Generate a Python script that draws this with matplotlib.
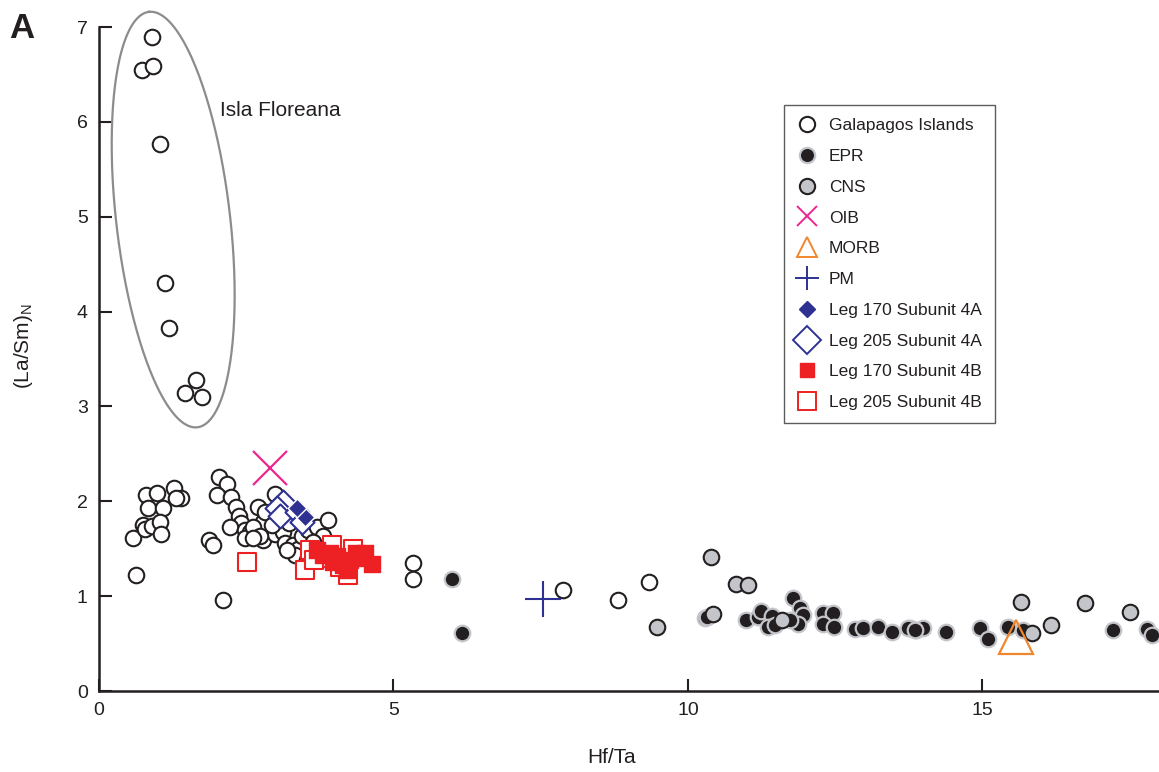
import numpy as np
import matplotlib
matplotlib.use('Agg')
import matplotlib.pyplot as plt
from matplotlib.lines import Line2D

plt.rcParams['font.family'] = ['Liberation Sans', 'DejaVu Sans']
plt.rcParams['mathtext.fontset'] = 'custom'
plt.rcParams['mathtext.rm'] = 'Liberation Sans'

# Galapagos Islands (open circles)
gal_x = [0.90, 0.73, 0.92, 1.04, 1.12, 1.19, 1.46, 1.65, 1.75,
         0.58, 0.63, 0.80, 0.98, 1.27, 1.39, 1.31, 0.83, 1.09, 0.75, 0.78,
         0.90, 1.04, 1.06,
         2.03, 2.17, 2.00, 2.24, 2.32, 2.37, 2.42, 2.22, 2.48, 2.56, 2.48,
         2.70, 2.99, 2.79, 2.70, 2.79, 2.99, 3.13, 3.16, 3.30, 3.38, 3.44,
         3.55, 3.70, 3.89, 3.81, 3.64, 1.86, 1.94, 2.82, 2.62, 2.93, 3.33,
         3.19, 2.11, 3.53, 3.47, 3.23, 2.73, 2.62,
         5.34, 5.34, 7.88, 8.82, 9.34]
gal_y = [6.90, 6.55, 6.59, 5.77, 4.30, 3.83, 3.14, 3.28, 3.10,
         1.61, 1.22, 2.07, 2.09, 2.14, 2.04, 2.04, 1.93, 1.93, 1.75, 1.71,
         1.74, 1.78, 1.66,
         2.26, 2.18, 2.07, 2.05, 1.94, 1.84, 1.77, 1.73, 1.70, 1.68, 1.61,
         1.94, 2.08, 1.78, 1.63, 1.59, 1.66, 1.68, 1.56, 1.54, 1.50, 1.63,
         1.70, 1.73, 1.80, 1.63, 1.57, 1.59, 1.54, 1.89, 1.73, 1.75, 1.43,
         1.49, 0.96, 1.38, 1.80, 1.77, 1.63, 1.61,
         1.35, 1.18, 1.06, 0.96, 1.15]

# EPR (black)
epr_x = [6.00, 6.16, 10.29, 10.32, 10.99, 11.19, 11.25, 11.42, 11.36, 11.48,
         11.79, 11.90, 11.96, 11.87, 11.73, 12.30, 12.47, 12.29, 12.48, 12.84,
         12.98, 13.23, 13.46, 13.77, 13.88, 13.99, 13.74, 13.85, 14.39, 14.96,
         15.10, 15.44, 15.69, 17.22, 17.79, 17.88]
epr_y = [1.18, 0.61, 0.77, 0.78, 0.75, 0.78, 0.84, 0.79, 0.68, 0.70,
         0.98, 0.87, 0.80, 0.71, 0.75, 0.82, 0.82, 0.71, 0.67, 0.65,
         0.66, 0.68, 0.62, 0.66, 0.64, 0.66, 0.66, 0.64, 0.62, 0.66,
         0.55, 0.68, 0.64, 0.64, 0.65, 0.59]

# CNS (grey)
cns_x = [9.47, 10.40, 10.81, 11.02, 10.43, 11.59, 15.66, 15.85, 16.17, 16.74, 17.50]
cns_y = [0.68, 1.41, 1.13, 1.12, 0.81, 0.75, 0.94, 0.61, 0.70, 0.93, 0.83]

# reference compositions
oib = (2.90, 2.35)
morb = (15.57, 0.57)
pm = (7.54, 0.97)

# Leg 170 / 205 Subunit 4A
l170a_x = [3.50, 3.36]
l170a_y = [1.83, 1.93]
l205a_x = [3.13, 3.02, 3.07, 3.36, 3.44]
l205a_y = [1.99, 1.93, 1.85, 1.89, 1.78]

# Leg 170 / 205 Subunit 4B
l170b_x = [4.63, 4.52, 4.37, 4.26, 4.15, 4.04, 3.92, 3.81, 3.70, 4.21, 4.45, 3.98]
l170b_y = [1.34, 1.45, 1.45, 1.38, 1.33, 1.42, 1.45, 1.43, 1.49, 1.28, 1.40, 1.36]
l205b_x = [2.51, 3.50, 3.95, 3.58, 4.23, 3.75, 4.09, 4.32, 3.65]
l205b_y = [1.36, 1.28, 1.54, 1.49, 1.22, 1.40, 1.31, 1.50, 1.38]

BLACK = '#231f20'
GREY = '#c3c5ca'
RED = '#ed2124'
BLUE = '#2e3192'
PINK = '#ec268f'
ORANGE = '#f0872e'

fig = plt.figure(figsize=(11.59, 7.72), dpi=100)
ax = fig.add_axes([0.0854, 0.1049, 0.9146, 0.8601])

ax.scatter(gal_x, gal_y, s=125, facecolors='white', edgecolors=BLACK, linewidths=1.5, zorder=3)
ax.scatter(epr_x, epr_y, s=125, facecolors=BLACK, edgecolors=GREY, linewidths=1.6, zorder=3)
ax.scatter(cns_x, cns_y, s=125, facecolors=GREY, edgecolors=BLACK, linewidths=1.5, zorder=4)
ax.scatter(l205b_x, l205b_y, s=150, marker='s', facecolors='white', edgecolors=RED, linewidths=1.5, zorder=5)
ax.scatter(l170b_x, l170b_y, s=120, marker='s', facecolors=RED, edgecolors=RED, linewidths=1.0, zorder=6)
ax.scatter(l205a_x, l205a_y, s=150, marker='D', facecolors='white', edgecolors=BLUE, linewidths=1.5, zorder=5)
ax.scatter(l170a_x, l170a_y, s=90, marker='D', facecolors=BLUE, edgecolors='white', linewidths=1.0, zorder=6)
ax.plot(*oib, marker='x', ms=24, mew=1.6, color=PINK, zorder=7)
ax.plot(*morb, marker='^', ms=24, mew=1.6, mfc='none', mec=ORANGE, zorder=7)
ax.plot(*pm, marker='+', ms=26, mew=1.5, color=BLUE, zorder=7)

# ellipse around Isla Floreana (tilted: top to the left, bottom to the right)
t = np.linspace(0, 2 * np.pi, 300)
ex = 1.26 - 0.41 * np.cos(t) + 0.96 * np.sin(t)
ey = 4.97 + 2.19 * np.cos(t) + 0.069 * np.sin(t)
ax.plot(ex, ey, color='#8c8c8c', lw=1.6, zorder=2, clip_on=False)
ax.text(2.05, 6.12, 'Isla Floreana', fontsize=15, color=BLACK, va='center', ha='left')

ax.set_xlim(0, 18)
ax.set_ylim(0, 7)
ax.set_xticks([0, 5, 10, 15])
ax.set_yticks(range(8))
for side in ['top', 'right']:
    ax.spines[side].set_visible(False)
for side in ['left', 'bottom']:
    ax.spines[side].set_linewidth(1.8)
    ax.spines[side].set_color(BLACK)
ax.tick_params(direction='in', length=9, width=1.5, color=BLACK, labelsize=14,
               labelcolor=BLACK, pad=8)

ax.set_xlabel('Hf/Ta', fontsize=15, color=BLACK)
ax.xaxis.set_label_coords(0.484, -0.086)
ax.set_ylabel(r'(La/Sm)$_\mathrm{N}$', fontsize=15, color=BLACK)
ax.yaxis.set_label_coords(-0.06, 0.52)

fig.text(0.008, 0.985, 'A', fontsize=25, fontweight='bold', va='top', ha='left', color=BLACK)

handles = [
    Line2D([], [], ls='', marker='o', ms=11, mfc='white', mec=BLACK, mew=1.5),
    Line2D([], [], ls='', marker='o', ms=11, mfc=BLACK, mec=GREY, mew=1.6),
    Line2D([], [], ls='', marker='o', ms=11, mfc=GREY, mec=BLACK, mew=1.5),
    Line2D([], [], ls='', marker='x', ms=14, mew=1.4, color=PINK),
    Line2D([], [], ls='', marker='^', ms=15, mew=1.4, mfc='none', mec=ORANGE),
    Line2D([], [], ls='', marker='+', ms=17, mew=1.4, color=BLUE),
    Line2D([], [], ls='', marker='D', ms=8, mfc=BLUE, mec=BLUE),
    Line2D([], [], ls='', marker='D', ms=14, mew=1.4, mfc='white', mec=BLUE),
    Line2D([], [], ls='', marker='s', ms=10, mfc=RED, mec=RED),
    Line2D([], [], ls='', marker='s', ms=13, mew=1.4, mfc='white', mec=RED),
]
labels = ['Galapagos Islands', 'EPR', 'CNS', 'OIB', 'MORB', 'PM',
          'Leg 170 Subunit 4A', 'Leg 205 Subunit 4A',
          'Leg 170 Subunit 4B', 'Leg 205 Subunit 4B']
leg = ax.legend(handles, labels, loc='upper left', bbox_to_anchor=(0.646, 0.8825),
                borderaxespad=0, fontsize=12.5, frameon=True, fancybox=False,
                edgecolor='#333333', handlelength=1.2, handletextpad=0.65,
                labelspacing=0.9, borderpad=0.75)
leg.get_frame().set_linewidth(1.0)
for txt in leg.get_texts():
    txt.set_color(BLACK)

fig.savefig('out.png', dpi=100)
